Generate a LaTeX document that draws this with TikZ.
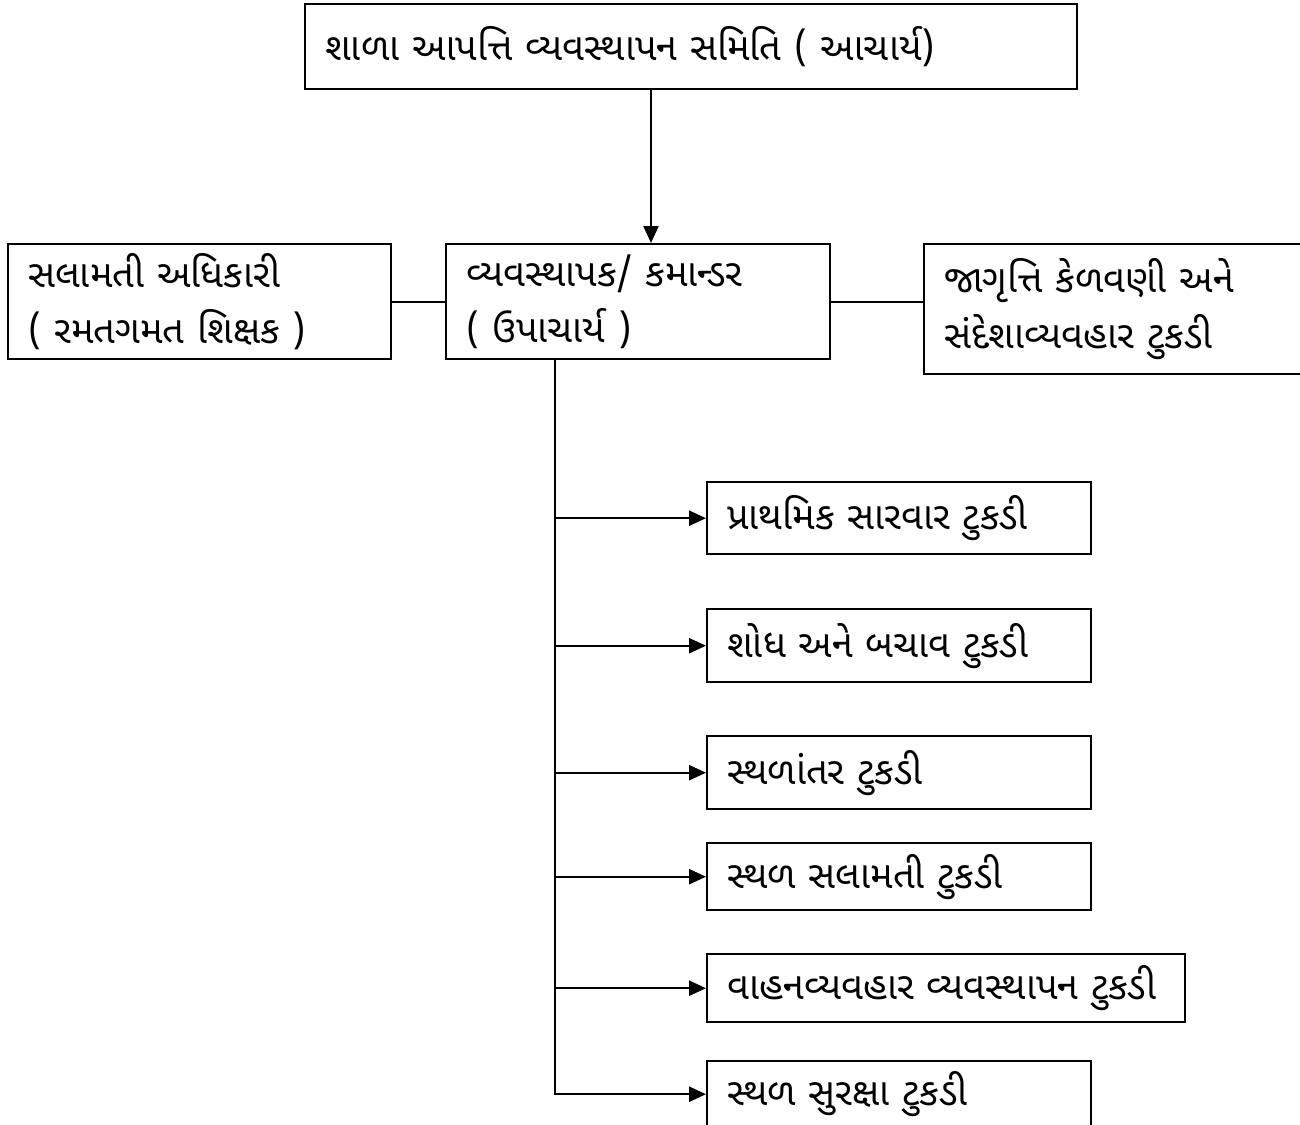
\documentclass[tikz,border=0pt]{standalone}
\usepackage{fontspec}
\newfontfamily\gu[Script=Gujarati]{Noto Sans Gujarati UI}
\usetikzlibrary{arrows.meta}
\tikzset{
  box/.style={draw, line width=2.4pt, anchor=north west, inner xsep=20pt, inner ysep=0pt,
    align=left, font=\gu\fontsize{38}{56}\selectfont},
  conn/.style={line width=2.4pt},
  arr/.style={line width=2.4pt, -{Triangle[length=17pt,width=15pt]}}
}
\begin{document}
\begin{tikzpicture}[x=1pt,y=-1pt]
\useasboundingbox (0,0) rectangle (1300,1124);
\node[box, text width=732pt, minimum height=85pt] (top) at (304,3) {શાળા આપત્તિ વ્યવસ્થાપન સમિતિ ( આચાર્ય)};
\node[box, text width=343pt, minimum height=115pt] (left) at (7,243) {સલામતી અધિકારી\\( રમતગમત શિક્ષક )};
\node[box, text width=344pt, minimum height=115pt] (mid) at (445,243) {વ્યવસ્થાપક/ કમાન્ડર\\( ઉપાચાર્ય )};
\node[box, text width=380pt, minimum height=130pt] (right) at (923,243) {જાગૃત્તિ કેળવણી અને\\સંદેશાવ્યવહાર ટુકડી};
\node[box, text width=344pt, minimum height=72pt] (b1) at (706,481) {પ્રાથમિક સારવાર ટુકડી};
\node[box, text width=344pt, minimum height=73pt] (b2) at (706,608) {શોધ અને બચાવ ટુકડી};
\node[box, text width=344pt, minimum height=73pt] (b3) at (706,735) {સ્થળાંતર ટુકડી};
\node[box, text width=344pt, minimum height=67pt] (b4) at (706,842) {સ્થળ સલામતી ટુકડી};
\node[box, text width=438pt, minimum height=68pt] (b5) at (706,953) {વાહનવ્યવહાર વ્યવસ્થાપન ટુકડી};
\node[box, text width=344pt, minimum height=66pt] (b6) at (706,1060) {સ્થળ સુરક્ષા ટુકડી};
\coordinate (ax) at (651,0);
\coordinate (vx) at (555,0);
\draw[arr] (top.south -| ax) -- (mid.north -| ax);
\draw[conn] (left.east |- mid.west) -- (mid.west);
\draw[conn] (mid.east) -- (mid.east -| right.west);
\draw[arr] (mid.south -| vx) -- (vx |- b6.west) -- (b6.west);
\foreach \b in {b1,b2,b3,b4,b5} \draw[arr] (vx |- \b.west) -- (\b.west);
\end{tikzpicture}
\end{document}
